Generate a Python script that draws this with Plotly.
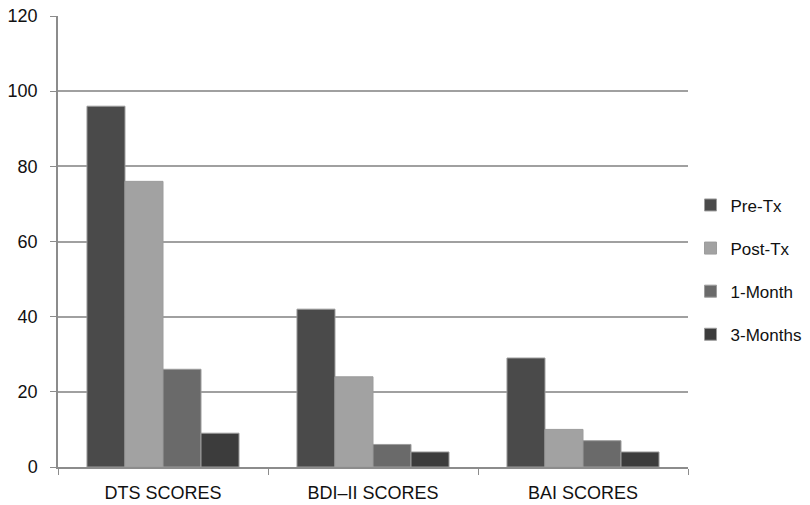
import plotly.graph_objects as go

categories = ["DTS SCORES", "BDI–II SCORES", "BAI SCORES"]
pre_tx = [96, 42, 29]
post_tx = [76, 24, 10]
one_month = [26, 6, 7]
three_months = [9, 4, 4]

series = [
    ("Pre-Tx", pre_tx, "#4a4a4a"),
    ("Post-Tx", post_tx, "#a2a2a2"),
    ("1-Month", one_month, "#6a6a6a"),
    ("3-Months", three_months, "#3c3c3c"),
]

font = dict(family="Liberation Sans, Arial, sans-serif", size=18, color="#111111")

fig = go.Figure()
for i, (name, vals, color) in enumerate(series):
    fig.add_trace(go.Bar(
        x=categories, y=vals, name=name, legendgroup=str(i),
        marker=dict(color=color, line=dict(color="#9c9c9c", width=1)),
    ))

fig.update_layout(
    width=810, height=505,
    margin=dict(l=58, r=122, t=16, b=38, autoexpand=False),
    paper_bgcolor="white", plot_bgcolor="white",
    font=font,
    barmode="group", bargap=0.276, bargroupgap=0,
    showlegend=True,
    legend=dict(
        x=1.004, xanchor="left", y=0.437, yanchor="middle",
        traceorder="grouped", tracegroupgap=18,
        font=dict(family="Liberation Sans, Arial, sans-serif", size=17, color="#111111"),
        bgcolor="rgba(0,0,0,0)",
    ),
    xaxis=dict(
        showline=True, linecolor="#8c8c8c", linewidth=1.5,
        ticks="outside", tickson="boundaries", ticklen=6, tickcolor="#8c8c8c",
        showgrid=False, tickfont=font, ticklabelstandoff=9, automargin=False,
    ),
    yaxis=dict(
        range=[0, 120], dtick=20,
        showline=True, linecolor="#8c8c8c", linewidth=1.5,
        ticks="outside", ticklen=6, tickcolor="#8c8c8c",
        showgrid=True, gridcolor="#a0a0a0", gridwidth=1.5,
        zeroline=False, tickfont=font, ticklabelstandoff=9, automargin=False,
    ),
)

fig.write_html("out.html")
